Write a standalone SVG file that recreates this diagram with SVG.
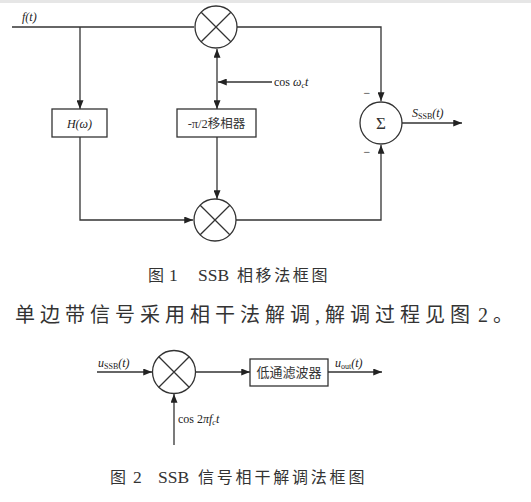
<svg xmlns="http://www.w3.org/2000/svg" width="531" height="502" viewBox="0 0 531 502">
<defs>
<marker id="arr" viewBox="0 0 10 8" refX="10" refY="4" markerWidth="9" markerHeight="7" markerUnits="userSpaceOnUse" orient="auto-start-reverse">
<path d="M0,0 L10,4 L0,8 z" fill="#222"/>
</marker>
<style>
.ln{fill:none;stroke:#333;stroke-width:1.3}
.nd{fill:#fff;stroke:#333;stroke-width:1.3}
.lbl{font-family:"Liberation Serif",serif;font-size:12px;fill:#222}
.it{font-style:italic}
.cjk{font-family:"Liberation Serif","Noto Sans CJK SC",sans-serif;fill:#333}
.cap{font-family:"Liberation Serif","Noto Sans CJK SC",sans-serif;fill:#333;font-size:16px}
.capl{font-family:"Liberation Serif",serif;fill:#333;font-size:17.5px}
</style>
</defs>
<rect x="0" y="0" width="531" height="502" fill="#fff"/>
<rect x="0" y="0" width="531" height="3" fill="#e6e6e6"/>

<g id="connectors">
<path class="ln" d="M12,27 H194"/>
<path class="ln" d="M237,27 H381 V101" marker-end="url(#arr)"/>
<path class="ln" d="M80,27 V109" marker-end="url(#arr)"/>
<path class="ln" d="M217,49 V109" marker-start="url(#arr)" marker-end="url(#arr)"/>
<path class="ln" d="M272,82 H218" marker-end="url(#arr)"/>
<path class="ln" d="M217,137 V199" marker-end="url(#arr)"/>
<path class="ln" d="M80,137 V220 H193" marker-end="url(#arr)"/>
<path class="ln" d="M236,220 H381 V145" marker-end="url(#arr)"/>
<path class="ln" d="M402,123 H462" marker-end="url(#arr)"/>
<path class="ln" d="M97,372 H152" marker-end="url(#arr)"/>
<path class="ln" d="M195,372 H250" marker-end="url(#arr)"/>
<path class="ln" d="M328,372 H382" marker-end="url(#arr)"/>
<path class="ln" d="M174,445 V394" marker-end="url(#arr)"/>
</g>

<g id="mult1">
<circle class="nd" cx="216" cy="27" r="21"/>
<path class="ln" d="M201.2,12.2 L230.8,41.8 M230.8,12.2 L201.2,41.8"/>
</g>
<g id="mult2">
<circle class="nd" cx="215" cy="220" r="21"/>
<path class="ln" d="M200.2,205.2 L229.8,234.8 M229.8,205.2 L200.2,234.8"/>
</g>
<g id="sum">
<circle class="nd" cx="381" cy="123" r="21"/>
<text x="381" y="129" text-anchor="middle" font-family="Liberation Serif,serif" font-size="17" fill="#333">Σ</text>
<text x="367" y="97" class="lbl" text-anchor="middle" fill="#555">−</text>
<text x="367" y="156" class="lbl" text-anchor="middle" fill="#555">−</text>
</g>
<g id="hbox">
<rect class="nd" x="52" y="109" width="55" height="28"/>
<text x="79.5" y="127.5" class="lbl it" font-size="13" text-anchor="middle">H(ω)</text>
</g>
<g id="phase">
<rect class="nd" x="177" y="109" width="79" height="28"/>
<text x="216.5" y="127.5" class="cjk" font-size="12.5" text-anchor="middle">-π/2移相器</text>
</g>

<g id="labels1">
<text x="22" y="21" class="lbl it" font-size="12">f(t)</text>
<text x="274" y="86" class="lbl">cos <tspan class="it">ω</tspan><tspan font-size="8" dy="2" class="it">c</tspan><tspan dy="-2" class="it">t</tspan></text>
<text x="412" y="117" class="lbl it">S<tspan font-size="8" dy="2" font-style="normal">SSB</tspan><tspan dy="-2">(t)</tspan></text>
</g>

<g id="caption1">
<text x="148" y="281" class="cap">图</text>
<text x="169" y="281" class="capl">1</text>
<text x="198" y="281" class="capl">SSB</text>
<text x="237" y="281" class="cap" letter-spacing="2.6">相移法框图</text>
</g>
<text x="15" y="322" class="cjk" font-size="20" letter-spacing="5">单边带信号采用相干法解调,解调过程见图<tspan dx="3">2</tspan>。</text>

<g id="filter">
<rect class="nd" x="250" y="359" width="78" height="27"/>
<text x="289" y="377" class="cjk" font-size="13" text-anchor="middle">低通滤波器</text>
</g>
<g id="mult3">
<circle class="nd" cx="174" cy="372" r="21.5"/>
<path class="ln" d="M158.8,356.8 L189.2,387.2 M189.2,356.8 L158.8,387.2"/>
</g>
<g id="labels2">
<text x="98" y="367" class="lbl it">u<tspan font-size="8" dy="2" font-style="normal">SSB</tspan><tspan dy="-2">(t)</tspan></text>
<text x="335" y="367" class="lbl it">u<tspan font-size="8" dy="2" font-style="normal">out</tspan><tspan dy="-2">(t)</tspan></text>
<text x="178" y="423" class="lbl">cos 2<tspan class="it">πf</tspan><tspan font-size="8" dy="2" class="it">c</tspan><tspan dy="-2" class="it">t</tspan></text>
</g>
<g id="caption2">
<text x="110" y="483" class="cap">图</text>
<text x="133" y="483" class="capl">2</text>
<text x="158" y="483" class="capl">SSB</text>
<text x="198" y="483" class="cap" letter-spacing="2.8">信号相干解调法框图</text>
</g>
</svg>
